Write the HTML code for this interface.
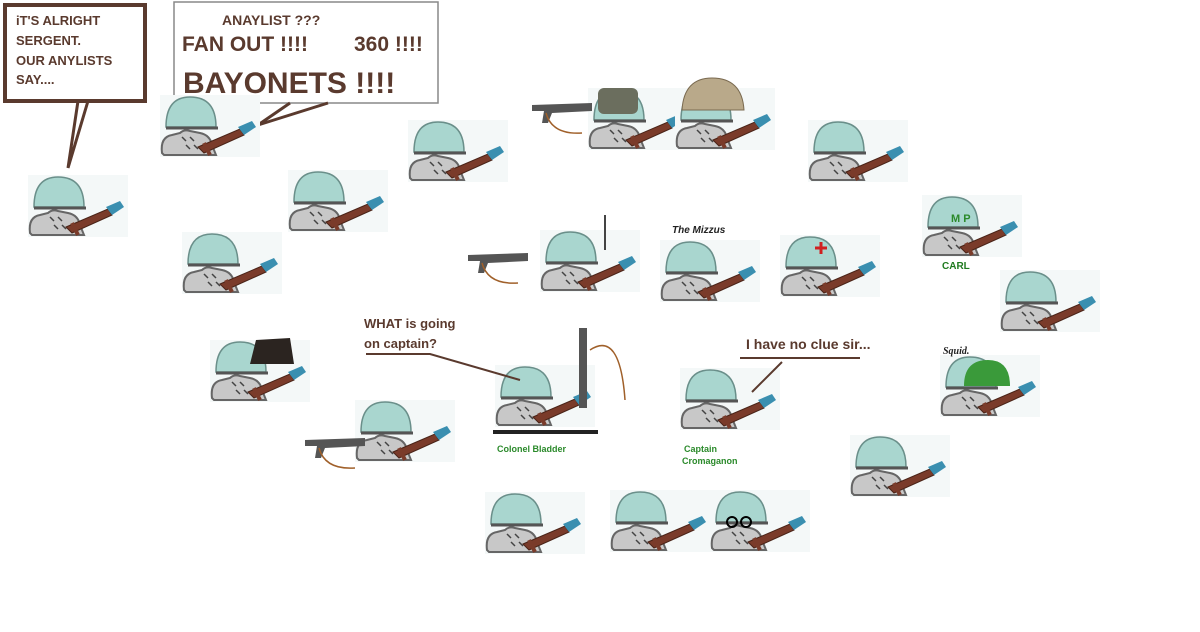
<!DOCTYPE html>
<html><head><meta charset="utf-8"><style>
html,body{margin:0;padding:0;background:#fff;width:1200px;height:632px;overflow:hidden}
svg{display:block}
text{font-family:"Liberation Sans",Arial,sans-serif;font-weight:bold}
</style></head><body>
<svg width="1200" height="632" viewBox="0 0 1200 632" xmlns="http://www.w3.org/2000/svg">
<defs>
<g id="s">
  <rect x="0" y="0" width="100" height="62" fill="#f4f8f8"/>
  <path d="M6 32 Q6 2 30 2 Q56 2 56 32 Z" fill="#a9d6cf" stroke="#6a8f8a" stroke-width="1.5"/>
  <path d="M6 33 L58 33" stroke="#555" stroke-width="3"/>
  <path d="M2 58 Q0 42 12 40 L20 38 Q24 34 30 36 L40 38 Q50 40 52 50 L56 60 L4 60 Z" fill="#c8c8c8" stroke="#666" stroke-width="2"/>
  <path d="M22 42 l4 4 m4 -4 l4 4 m-8 4 l4 4 m4 -4 l4 4" stroke="#444" stroke-width="1.5"/>
  <path d="M38 52 L80 34 L84 40 L44 58 Z" fill="#7a3b2a" stroke="#4a2418" stroke-width="1"/>
  <path d="M78 32 L92 26 L96 32 L84 40 Z" fill="#3a8fb0"/>
  <path d="M44 48 L50 60" stroke="#7a3b2a" stroke-width="4"/>
</g>
<g id="tg">
  <path d="M0 10 L60 8 L60 16 L20 18 L16 28 L10 28 L12 16 L0 16 Z" fill="#555"/>
  <path d="M14 18 Q20 40 50 38" stroke="#a0602a" fill="none" stroke-width="1.5"/>
</g>
</defs>

<rect x="5" y="5" width="140" height="96" fill="#fff" stroke="#5a3a2e" stroke-width="4"/>
<text x="16" y="25" font-size="13" fill="#5a3a2e">iT'S ALRIGHT</text>
<text x="16" y="45" font-size="13" fill="#5a3a2e">SERGENT.</text>
<text x="16" y="65" font-size="13" fill="#5a3a2e">OUR ANYLISTS</text>
<text x="16" y="84" font-size="13" fill="#5a3a2e">SAY....</text>
<path d="M78 101 L68 168 L88 101" fill="none" stroke="#5a3a2e" stroke-width="3"/>

<rect x="174" y="2" width="264" height="101" fill="#fff" stroke="#888" stroke-width="1.5"/>
<text x="222" y="25" font-size="14" fill="#5a3a2e">ANAYLIST ???</text>
<text x="182" y="51" font-size="21" fill="#5a3a2e">FAN OUT !!!!</text>
<text x="354" y="51" font-size="21" fill="#5a3a2e">360 !!!!</text>
<text x="183" y="93" font-size="30" fill="#5a3a2e">BAYONETS !!!!</text>
<path d="M290 103 L258 125 L328 103" fill="none" stroke="#5a3a2e" stroke-width="3"/>

<use href="#s" x="28" y="175"/>
<use href="#s" x="160" y="95"/>
<use href="#s" x="288" y="170"/>
<use href="#s" x="182" y="232"/>
<use href="#s" x="408" y="120"/>
<use href="#s" x="588" y="88"/>
<use href="#tg" x="532" y="95"/>
<rect x="598" y="88" width="40" height="26" rx="6" fill="#6b6e5e"/>
<use href="#s" x="675" y="88"/>
<path d="M682 110 Q684 78 712 78 Q742 78 744 110 Z" fill="#b9a98a" stroke="#7a6a50"/>
<use href="#s" x="808" y="120"/>
<use href="#s" x="922" y="195"/>
<text x="951" y="222" font-size="11" fill="#2b8a2b">M P</text>
<text x="942" y="269" font-size="10" fill="#1f7a1f">CARL</text>
<use href="#s" x="540" y="230"/>
<use href="#tg" x="468" y="245"/>
<path d="M605 215 L605 250" stroke="#444" stroke-width="2"/>
<use href="#s" x="780" y="235"/>
<path d="M815 248 h12 M821 242 v12" stroke="#d02020" stroke-width="3"/>
<use href="#s" x="1000" y="270"/>
<use href="#s" x="210" y="340"/>
<path d="M250 364 L256 340 L290 338 L294 364 Z" fill="#2b2420"/>
<use href="#s" x="355" y="400"/>
<use href="#tg" x="305" y="430"/>
<use href="#s" x="495" y="365"/>
<path d="M493 432 L598 432" stroke="#222" stroke-width="4"/>
<rect x="579" y="328" width="8" height="80" fill="#555"/>
<path d="M590 350 Q620 330 625 400" stroke="#a0602a" fill="none" stroke-width="1.5"/>
<use href="#s" x="680" y="368"/>
<use href="#s" x="940" y="355"/>
<path d="M964 386 Q964 360 988 360 Q1010 360 1010 386 Z" fill="#3a9a3a"/>
<use href="#s" x="850" y="435"/>
<use href="#s" x="485" y="492"/>
<use href="#s" x="610" y="490"/>
<use href="#s" x="710" y="490"/>
<circle cx="732" cy="522" r="5" fill="none" stroke="#000" stroke-width="2"/>
<circle cx="746" cy="522" r="5" fill="none" stroke="#000" stroke-width="2"/>
<use href="#s" x="660" y="240"/>

<text x="672" y="233" font-size="10" font-style="italic" fill="#222">The Mizzus</text>
<text x="943" y="354" font-size="10" font-style="italic" font-weight="normal" fill="#222" style="font-family:'Liberation Serif',serif">Squid.</text>
<text x="364" y="328" font-size="13" fill="#5a3a2e">WHAT is going</text>
<text x="364" y="348" font-size="13" fill="#5a3a2e">on captain?</text>
<path d="M366 354 L430 354 L520 380" fill="none" stroke="#5a3a2e" stroke-width="2"/>
<text x="746" y="349" font-size="14" fill="#5a3a2e">I have no clue sir...</text>
<path d="M740 358 L860 358 M782 362 L752 392" fill="none" stroke="#5a3a2e" stroke-width="2"/>
<text x="497" y="452" font-size="9" fill="#2b8a2b">Colonel Bladder</text>
<text x="684" y="452" font-size="9" fill="#2b8a2b">Captain</text>
<text x="682" y="464" font-size="9" fill="#2b8a2b">Cromaganon</text>
</svg>
</body></html>
